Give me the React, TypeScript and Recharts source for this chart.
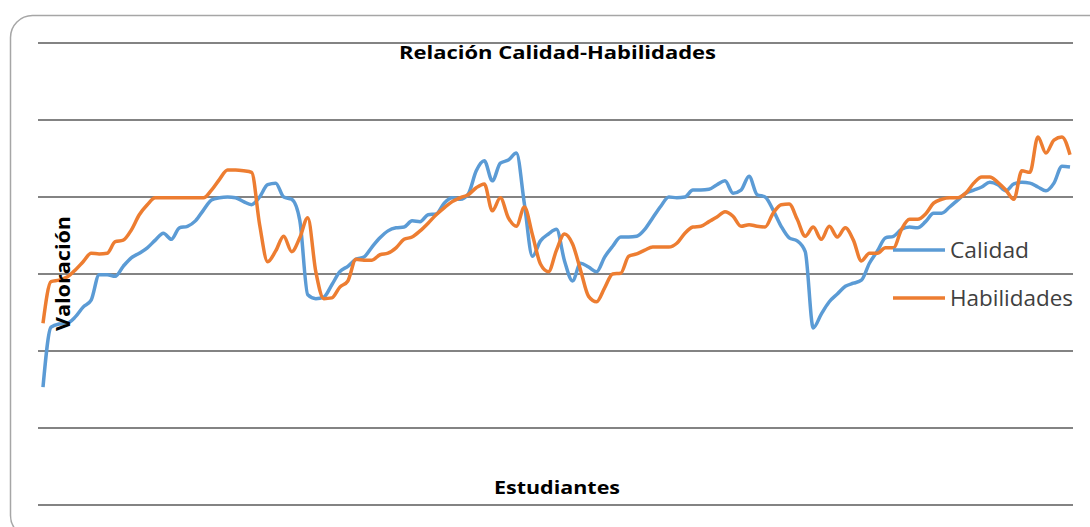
import React from 'react';
import { LineChart, Line, XAxis, YAxis, CartesianGrid, Legend } from 'recharts';

const calidad = [
  1.53, 2.31, 2.35, 2.36, 2.44, 2.57, 2.66, 2.99, 2.99, 2.97,
  3.10, 3.21, 3.27, 3.34, 3.44, 3.53, 3.45, 3.60, 3.62, 3.69,
  3.83, 3.96, 3.99, 4.00, 3.99, 3.94, 3.90, 4.00, 4.16, 4.18,
  4.00, 3.97, 3.70, 2.73, 2.68, 2.70, 2.86, 3.03, 3.10, 3.19,
  3.22, 3.35, 3.47, 3.56, 3.60, 3.61, 3.69, 3.68, 3.77, 3.78,
  3.92, 3.99, 3.97, 4.04, 4.34, 4.47, 4.21, 4.44, 4.48, 4.57,
  3.91, 3.23, 3.43, 3.52, 3.58, 3.17, 2.91, 3.14, 3.09, 3.03,
  3.22, 3.36, 3.48, 3.48, 3.49, 3.58, 3.73, 3.88, 4.00, 3.99,
  4.00, 4.09, 4.09, 4.10, 4.16, 4.21, 4.05, 4.09, 4.27, 4.03,
  4.00, 3.83, 3.62, 3.47, 3.43, 3.29, 2.30, 2.48, 2.64, 2.74,
  2.84, 2.88, 2.92, 3.14, 3.30, 3.47, 3.49, 3.58, 3.61, 3.60,
  3.68, 3.79, 3.79, 3.87, 3.96, 4.05, 4.09, 4.13, 4.19, 4.16,
  4.08, 4.17, 4.19, 4.18, 4.13, 4.08, 4.18, 4.40, 4.39,
];

const habilidades = [
  2.36, 2.90, 2.92, 2.96, 3.05, 3.16, 3.27, 3.26, 3.27, 3.42,
  3.44, 3.57, 3.77, 3.90, 3.99, 3.99, 3.99, 3.99, 3.99, 3.99,
  3.99, 4.09, 4.23, 4.35, 4.35, 4.34, 4.32, 3.64, 3.16, 3.30,
  3.49, 3.29, 3.47, 3.73, 3.03, 2.68, 2.69, 2.83, 2.91, 3.19,
  3.18, 3.18, 3.25, 3.27, 3.34, 3.45, 3.48, 3.56, 3.66, 3.77,
  3.86, 3.94, 3.99, 4.03, 4.12, 4.17, 3.82, 3.99, 3.73, 3.62,
  3.87, 3.51, 3.13, 3.03, 3.31, 3.52, 3.39, 3.05, 2.71, 2.64,
  2.82, 3.00, 3.01, 3.23, 3.26, 3.31, 3.35, 3.35, 3.35, 3.40,
  3.53, 3.61, 3.62, 3.68, 3.74, 3.81, 3.75, 3.62, 3.64, 3.62,
  3.61, 3.79, 3.90, 3.91, 3.71, 3.49, 3.61, 3.45, 3.62, 3.48,
  3.60, 3.44, 3.17, 3.27, 3.27, 3.34, 3.34, 3.58, 3.71, 3.71,
  3.78, 3.92, 3.97, 3.99, 3.99, 4.05, 4.18, 4.26, 4.26, 4.19,
  4.09, 3.97, 4.34, 4.32, 4.78, 4.57, 4.74, 4.78, 4.55,
];

const students = calidad.map((_, i) => i + 1);
const yTicks = [0, 1, 2, 3, 4, 5, 6];

const seriesNames = { calidad: 'Calidad', habilidades: 'Habilidades' };
const colors = { calidad: '#5B9BD5', habilidades: '#ED7D31' };

const data = students.map((s, i) => ({
  estudiante: s,
  calidad: calidad[i],
  habilidades: habilidades[i],
}));

const FONT = '"Open Sans", "Noto Sans", sans-serif';

const LegendContent = (props: any) => {
  const payload = props.payload || [];
  const widths: Record<string, number> = { Calidad: 79, Habilidades: 123 };
  return (
    <svg width={200} height={90} style={{ display: 'block', overflow: 'visible' }}>
      {payload.map((entry: any, i: number) => {
        const cy = 18 + i * 48;
        return (
          <g key={entry.value}>
            <line x1={5} x2={57} y1={cy} y2={cy} stroke={entry.color} strokeWidth={3.5} />
            <text
              x={62}
              y={cy + 8}
              fontFamily={FONT}
              fontSize={22}
              fill="#404040"
              textLength={widths[entry.value]}
              lengthAdjust="spacingAndGlyphs"
            >
              {entry.value}
            </text>
          </g>
        );
      })}
    </svg>
  );
};

export default function App() {
  return (
    <div style={{ position: 'absolute', left: 0, top: 0, width: 1090, height: 527, background: '#fff' }}>
      <svg
        width={1090}
        height={527}
        style={{ position: 'absolute', left: 0, top: 0, pointerEvents: 'none' }}
      >
        <rect x={10.5} y={15.5} width={1110} height={522} rx={22} ry={22} fill="none" stroke="#a6a6a6" strokeWidth={1.5} />
      </svg>
      <div style={{ position: 'absolute', left: 0, top: 0 }}>
        <LineChart
          width={1090}
          height={527}
          data={data}
          margin={{ top: 43, right: 17, bottom: 22, left: 38 }}
        >
          <CartesianGrid horizontal vertical={false} stroke="#5a5a5a" strokeWidth={1.5} />
          <XAxis dataKey="estudiante" hide padding={{ left: 5, right: 3 }} />
          <YAxis hide domain={[0, 6]} ticks={yTicks} />
          <Legend
            layout="vertical"
            align="center"
            verticalAlign="middle"
            wrapperStyle={{ left: 888, top: 232, width: 200, height: 90 }}
            content={<LegendContent />}
          />
          <Line
            type="monotone"
            dataKey="calidad"
            name={seriesNames.calidad}
            stroke={colors.calidad}
            strokeWidth={3.5}
            strokeLinejoin="round"
            dot={false}
            isAnimationActive={false}
          />
          <Line
            type="monotone"
            dataKey="habilidades"
            name={seriesNames.habilidades}
            stroke={colors.habilidades}
            strokeWidth={3.5}
            strokeLinejoin="round"
            dot={false}
            isAnimationActive={false}
          />
        </LineChart>
      </div>
      <svg
        width={1090}
        height={527}
        style={{ position: 'absolute', left: 0, top: 0, pointerEvents: 'none' }}
      >
        <text x={399} y={59} fontFamily={FONT} fontWeight={700} fontSize={18} fill="#000" textLength={317} lengthAdjust="spacingAndGlyphs">
          Relación Calidad-Habilidades
        </text>
        <text x={494} y={494} fontFamily={FONT} fontWeight={700} fontSize={18} fill="#000" textLength={126} lengthAdjust="spacingAndGlyphs">
          Estudiantes
        </text>
        <text
          x={0}
          y={0}
          transform="translate(70,331) rotate(-90)"
          fontFamily={FONT}
          fontWeight={700}
          fontSize={19}
          fill="#000"
          textLength={115}
          lengthAdjust="spacingAndGlyphs"
        >
          Valoración
        </text>
      </svg>
    </div>
  );
}
